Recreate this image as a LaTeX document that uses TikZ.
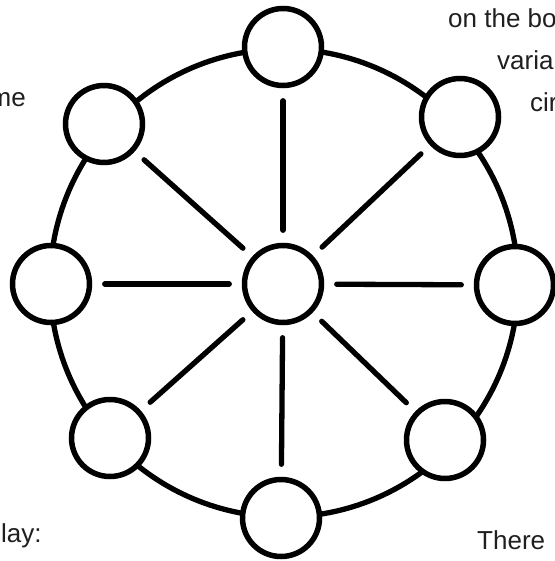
\documentclass[tikz,border=0pt]{standalone}
\usepackage{fontspec}
\setmainfont{Liberation Sans}
\begin{document}
\begin{tikzpicture}[x=1pt,y=-1pt,
  nd/.style={circle,draw=black,fill=white,line width=5.5pt,minimum size=77pt,inner sep=0pt},
  spoke/.style={line width=5.3pt,line cap=round,shorten <=12.5pt,shorten >=12.5pt},
  ring/.style={line width=5.3pt},
  txt/.style={inner sep=0pt,text=black!88,font=\fontsize{26}{30}\selectfont}]
\useasboundingbox (0,0) rectangle (554,561);
\fill[white] (0,0) rectangle (554,561);
% text
\node[txt,anchor=base west] (t1) at (448,28) {on the bo};
\node[txt,anchor=base west] (t2) at (497,70) {varia};
\node[txt,anchor=base west] (t3) at (530,112) {cir};
\node[txt,anchor=base east] (t4) at (26,107) {me};
\node[txt,anchor=base west] (t5) at (1,542) {lay:};
\node[txt,anchor=base west] (t6) at (477,549) {There};
% ring
\coordinate (O) at (284,283);
\draw[ring] (O) circle[radius=234];
% nodes
\node[nd] (C) at (283,284) {};
\node[nd] (T) at (283,47) {};
\node[nd] (B) at (281,518) {};
\node[nd] (L) at (51,284) {};
\node[nd] (R) at (515,285) {};
\node[nd] (TL) at (104,124) {};
\node[nd] (TR) at (460,117) {};
\node[nd] (BL) at (110,438) {};
\node[nd] (BR) at (445,440) {};
% spokes
\foreach \n in {T,B,L,R,TL,TR,BL,BR} \draw[spoke] (C) -- (\n);
\end{tikzpicture}
\end{document}
